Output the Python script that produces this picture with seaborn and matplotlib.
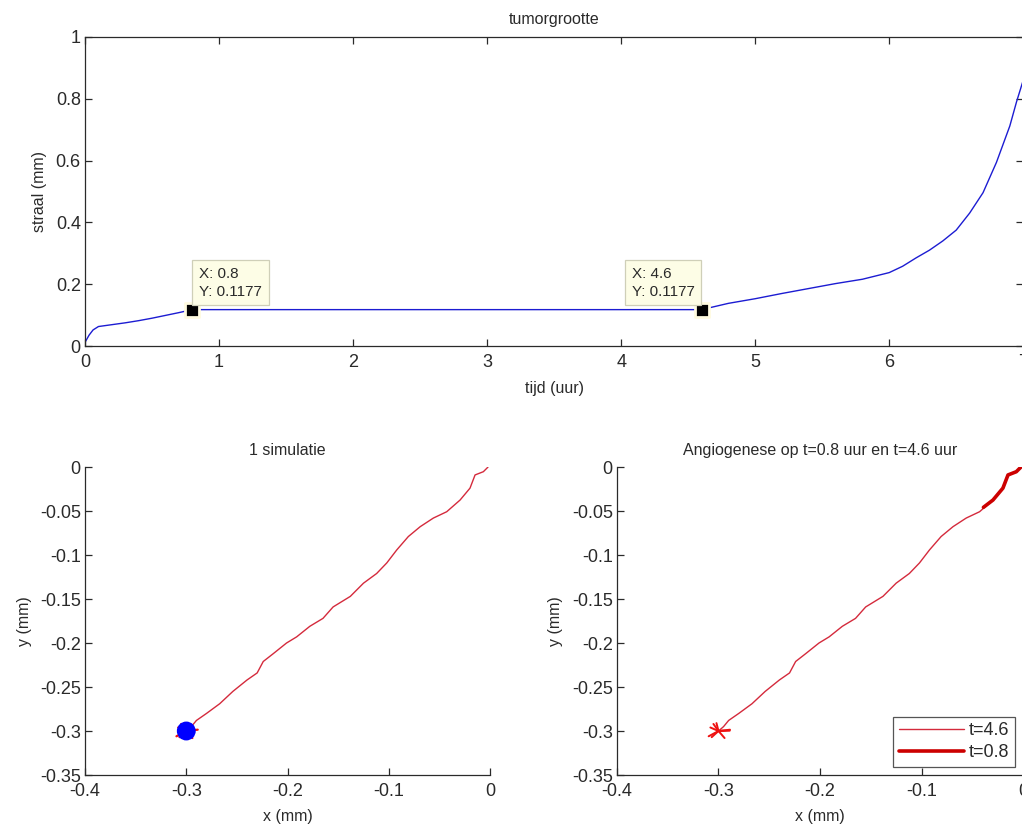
import matplotlib
matplotlib.use("Agg")
import matplotlib.pyplot as plt
import numpy as np
import pandas as pd
import seaborn as sns

# ---------------- data ----------------
t_uur = [0.0, 0.03, 0.06, 0.1, 0.2, 0.3, 0.4, 0.5, 0.6, 0.7, 0.8,
         4.6, 4.8, 5.0, 5.2, 5.4, 5.6, 5.8, 6.0, 6.1, 6.2, 6.3, 6.4,
         6.5, 6.6, 6.7, 6.8, 6.9, 6.95, 7.0]
straal_mm = [0.012, 0.035, 0.052, 0.063, 0.069, 0.075, 0.082, 0.090, 0.099, 0.108, 0.1177,
             0.1177, 0.138, 0.153, 0.170, 0.186, 0.202, 0.216, 0.2375, 0.258, 0.285, 0.31, 0.34,
             0.375, 0.43, 0.496, 0.594, 0.712, 0.79, 0.86]

tip_t = [0.8, 4.6]
tip_r = [0.1177, 0.1177]
tip_labels = ["X: 0.8\nY: 0.1177", "X: 4.6\nY: 0.1177"]

vat_x = [-0.002, -0.0066, -0.0148, -0.0198, -0.0296, -0.0428, -0.056, -0.069, -0.0807,
         -0.0922, -0.102, -0.112, -0.125, -0.138, -0.155, -0.165, -0.178, -0.191, -0.201,
         -0.214, -0.224, -0.230, -0.240, -0.254, -0.267, -0.280, -0.290, -0.295, -0.300]
vat_y = [0.0, -0.0053, -0.009, -0.024, -0.0375, -0.0508, -0.058, -0.0678, -0.079,
         -0.0943, -0.109, -0.121, -0.132, -0.147, -0.159, -0.172, -0.181, -0.193, -0.200,
         -0.212, -0.221, -0.234, -0.242, -0.255, -0.269, -0.280, -0.288, -0.295, -0.300]

vat08_x = [-0.002, -0.0066, -0.0148, -0.0198, -0.0296, -0.039]
vat08_y = [0.0, -0.0053, -0.009, -0.024, -0.0375, -0.0458]

tumor_x = [-0.300]
tumor_y = [-0.300]
spruit_x = [-0.305, -0.3067, -0.2887, -0.294, -0.302, -0.308, -0.3097]
spruit_y = [-0.292, -0.307, -0.2985, -0.308, -0.291, -0.296, -0.306]

xticks_top = [0, 1, 2, 3, 4, 5, 6, 7]
yticks_top = [0, 0.2, 0.4, 0.6, 0.8, 1.0]
yticklabels_top = ["0", "0.2", "0.4", "0.6", "0.8", "1"]
xticks_bot = [-0.4, -0.3, -0.2, -0.1, 0.0]
xticklabels_bot = ["-0.4", "-0.3", "-0.2", "-0.1", "0"]
yticks_bot = [0.0, -0.05, -0.1, -0.15, -0.2, -0.25, -0.3, -0.35]
yticklabels_bot = ["0", "-0.05", "-0.1", "-0.15", "-0.2", "-0.25", "-0.3", "-0.35"]

# ---------------- style ----------------
sns.set_theme(style="white")
plt.rcParams["font.family"] = ["Liberation Sans", "DejaVu Sans"]
plt.rcParams["axes.unicode_minus"] = False
FS = 11.5
TFS = 13
TXT = "#2a2a2a"

fig = plt.figure(figsize=(10.22, 8.25), dpi=100)
fig.patch.set_facecolor("white")
ax1 = fig.add_axes([0.0832, 0.5806, 0.918, 0.3746])
ax2 = fig.add_axes([0.0832, 0.0606, 0.3963, 0.3733])
ax3 = fig.add_axes([0.6037, 0.0606, 0.3973, 0.3733])


def style(ax, box):
    for s in ax.spines.values():
        s.set_color(TXT)
        s.set_linewidth(0.9)
    if not box:
        ax.spines["top"].set_visible(False)
        ax.spines["right"].set_visible(False)
    ax.tick_params(direction="in", length=5, width=0.9, colors=TXT,
                   labelsize=TFS, top=box, right=box, bottom=True, left=True)
    ax.tick_params(axis="y", pad=3)
    ax.tick_params(axis="x", pad=6)


# ---------------- top: tumorgrootte ----------------
df_top = pd.DataFrame({"t": t_uur, "r": straal_mm})
sns.lineplot(data=df_top, x="t", y="r", ax=ax1, color="#1c1cd2", lw=1,
             sort=False, estimator=None)
sns.scatterplot(x=tip_t, y=tip_r, ax=ax1, marker="s", s=115, color="black",
                edgecolor="#fffbe0", linewidth=2, zorder=5)
offs = [((5, 8), "left"), ((-5, 8), "right")]
for tx, ry, lab, (off, ha) in zip(tip_t, tip_r, tip_labels, offs):
    ax1.annotate(lab, xy=(tx, ry), xytext=off, textcoords="offset points",
                 ha=ha, va="bottom", multialignment="left", fontsize=11, color=TXT,
                 linespacing=1.35,
                 bbox=dict(boxstyle="square,pad=0.45", fc="#fdfde6", ec="#cfcfb8", lw=0.9),
                 zorder=6)
ax1.set_xlim(0, 7)
ax1.set_ylim(0, 1)
ax1.set_xticks(xticks_top)
ax1.set_xticklabels([str(v) for v in xticks_top])
ax1.set_yticks(yticks_top)
ax1.set_yticklabels(yticklabels_top)
ax1.set_title("tumorgrootte", fontsize=FS, color=TXT, pad=9)
ax1.set_xlabel("tijd (uur)", fontsize=FS, color=TXT, labelpad=7)
ax1.set_ylabel("straal (mm)", fontsize=FS, color=TXT, labelpad=6)
style(ax1, True)


# ---------------- sprouts helper ----------------
def sprout_df():
    rows = []
    for i, (sx, sy) in enumerate(zip(spruit_x, spruit_y)):
        rows.append({"seg": i, "o": 0, "x": tumor_x[0], "y": tumor_y[0]})
        rows.append({"seg": i, "o": 1, "x": sx, "y": sy})
    return pd.DataFrame(rows)


df_vat = pd.DataFrame({"x": vat_x, "y": vat_y})
df_vat08 = pd.DataFrame({"x": vat08_x, "y": vat08_y})
df_spr = sprout_df()

# ---------------- bottom left: 1 simulatie ----------------
sns.lineplot(data=df_vat, x="x", y="y", ax=ax2, color="#d42a3c", lw=1,
             sort=False, estimator=None)
sns.lineplot(data=df_spr, x="x", y="y", units="seg", ax=ax2, color="#ee1111",
             lw=1.6, sort=False, estimator=None)
sns.scatterplot(x=tumor_x, y=tumor_y, ax=ax2, s=185, color="#0000ff",
                edgecolor="none", zorder=5)

# ---------------- bottom right: angiogenese ----------------
sns.lineplot(data=df_vat, x="x", y="y", ax=ax3, color="#d42a3c", lw=1,
             sort=False, estimator=None, label="t=4.6")
sns.lineplot(data=df_vat08, x="x", y="y", ax=ax3, color="#cc0000", lw=2.6,
             sort=False, estimator=None, label="t=0.8")
sns.lineplot(data=df_spr, x="x", y="y", units="seg", ax=ax3, color="#ee1111",
             lw=1.4, sort=False, estimator=None)
sns.lineplot(x=[tumor_x[0], -0.289], y=[tumor_y[0], -0.2995], ax=ax3,
             color="#ee1111", lw=1.6, estimator=None)

for ax, title in [(ax2, "1 simulatie"), (ax3, "Angiogenese op t=0.8 uur en t=4.6 uur")]:
    ax.set_xlim(-0.4, 0)
    ax.set_ylim(-0.35, 0)
    ax.set_xticks(xticks_bot)
    ax.set_xticklabels(xticklabels_bot)
    ax.set_yticks(yticks_bot)
    ax.set_yticklabels(yticklabels_bot)
    ax.set_title(title, fontsize=FS, color=TXT, pad=9)
    ax.set_xlabel("x (mm)", fontsize=FS, color=TXT, labelpad=6)
    ax.set_ylabel("y (mm)", fontsize=FS, color=TXT, labelpad=6)
    style(ax, False)

leg = ax3.legend(loc="lower right", fontsize=TFS, frameon=True, fancybox=False,
                 handlelength=3.6, borderaxespad=0.45, labelspacing=0.3,
                 handletextpad=0.3, borderpad=0.3)
leg.get_frame().set_edgecolor(TXT)
leg.get_frame().set_linewidth(0.9)
for txt in leg.get_texts():
    txt.set_color(TXT)

fig.savefig("out.png", dpi=100, facecolor="white")
